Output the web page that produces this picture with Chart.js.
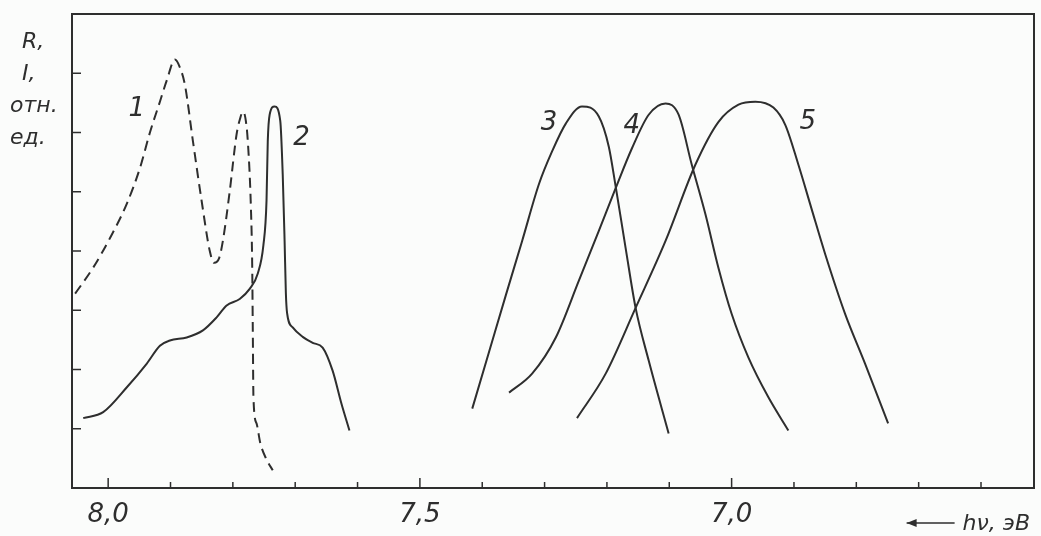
<!DOCTYPE html>
<html>
<head>
<meta charset="utf-8">
<script src="https://cdn.jsdelivr.net/npm/chart.js@4"></script>
<style>
  body { margin: 0; background: #fbfcfb; }
  #wrap { width: 1041px; height: 536px; position: relative; }
</style>
</head>
<body>
<div id="wrap"><canvas id="spectra"></canvas></div>
<script>
// photon energy, eV (axis runs from high to low)
const x1 = [8.053, 8.024, 7.997, 7.970, 7.949, 7.933, 7.917, 7.906, 7.893, 7.885, 7.877, 7.864, 7.850, 7.837, 7.830, 7.822, 7.816, 7.805, 7.794, 7.788, 7.784, 7.780, 7.776, 7.771, 7.769, 7.768, 7.767, 7.762, 7.756, 7.746, 7.736];
const y1 = [3.28, 3.72, 4.22, 4.80, 5.40, 6.00, 6.52, 6.88, 7.23, 7.10, 6.81, 5.85, 4.84, 4.00, 3.80, 3.88, 4.17, 5.01, 5.97, 6.25, 6.35, 6.25, 5.85, 4.72, 3.78, 2.66, 1.53, 1.09, 0.76, 0.48, 0.30];

const x2 = [8.040, 8.008, 7.970, 7.938, 7.917, 7.901, 7.874, 7.848, 7.826, 7.810, 7.789, 7.773, 7.760, 7.751, 7.746, 7.744, 7.741, 7.733, 7.724, 7.720, 7.717, 7.715, 7.713, 7.704, 7.688, 7.672, 7.656, 7.640, 7.626, 7.613];
const y2 = [1.18, 1.28, 1.70, 2.10, 2.40, 2.49, 2.54, 2.66, 2.88, 3.08, 3.19, 3.36, 3.62, 4.10, 4.85, 5.85, 6.30, 6.44, 6.20, 5.29, 4.17, 3.30, 2.95, 2.71, 2.55, 2.45, 2.37, 1.98, 1.43, 0.97];

const x3 = [7.416, 7.389, 7.362, 7.336, 7.309, 7.288, 7.266, 7.240, 7.213, 7.197, 7.186, 7.170, 7.154, 7.133, 7.101];
const y3 = [1.34, 2.30, 3.26, 4.17, 5.13, 5.68, 6.15, 6.44, 6.27, 5.76, 5.09, 4.05, 3.04, 2.15, 0.92];

const x4 = [7.357, 7.320, 7.282, 7.245, 7.213, 7.186, 7.160, 7.133, 7.106, 7.085, 7.064, 7.042, 7.021, 7.000, 6.973, 6.941, 6.909];
const y4 = [1.61, 1.93, 2.54, 3.50, 4.34, 5.06, 5.73, 6.30, 6.49, 6.30, 5.46, 4.62, 3.71, 2.94, 2.20, 1.53, 0.97];

const x5 = [7.248, 7.202, 7.154, 7.106, 7.058, 7.021, 6.989, 6.962, 6.933, 6.914, 6.893, 6.872, 6.850, 6.818, 6.786, 6.749];
const y5 = [1.18, 1.93, 3.04, 4.17, 5.46, 6.18, 6.47, 6.52, 6.42, 6.13, 5.46, 4.72, 3.95, 2.94, 2.10, 1.09];

// axis ticks
const xLabelTicks = [8.0, 7.5, 7.0];
const xMinorTicks = [8.0, 7.9, 7.8, 7.7, 7.6, 7.5, 7.4, 7.3, 7.2, 7.1, 7.0, 6.9, 6.8, 6.7, 6.6];
const yMinorTicks = [1, 2, 3, 4, 5, 6, 7];

// curve numbers, placed in data units
const curveNames = ['1', '2', '3', '4', '5'];
const nameX = [7.954, 7.690, 7.293, 7.160, 6.878];
const nameY = [6.40, 5.90, 6.15, 6.10, 6.18];

const yTitle = ['R,', 'I,', 'отн.', 'ед.'];
const xTitle = 'hν, эВ';

const INK = '#2e2e2e';
const HAND = 'italic 26px "DejaVu Sans"';

const toPoints = (xs, ys) => xs.map((x, i) => ({ x, y: ys[i] }));

const curve = (xs, ys, dashed) => ({
    data: toPoints(xs, ys),
    borderColor: INK,
    borderWidth: 2,
    borderDash: dashed ? [10, 6] : [],
    pointRadius: 0,
    cubicInterpolationMode: 'monotone',
    fill: false
});

// frame, inward ticks, curve numbers and axis titles
const decorations = {
    id: 'decorations',
    afterDraw(chart) {
        const { ctx, chartArea: ca, scales: { x, y } } = chart;
        ctx.save();
        ctx.strokeStyle = INK;
        ctx.lineWidth = 2;
        ctx.strokeRect(ca.left, ca.top, ca.right - ca.left, ca.bottom - ca.top);

        ctx.lineWidth = 1.5;
        xMinorTicks.forEach(v => {
            const px = x.getPixelForValue(v);
            const len = xLabelTicks.includes(v) ? 10 : 6;
            ctx.beginPath();
            ctx.moveTo(px, ca.bottom);
            ctx.lineTo(px, ca.bottom - len);
            ctx.stroke();
        });
        yMinorTicks.forEach(v => {
            const py = y.getPixelForValue(v);
            ctx.beginPath();
            ctx.moveTo(ca.left, py);
            ctx.lineTo(ca.left + 9, py);
            ctx.stroke();
        });

        ctx.fillStyle = INK;
        ctx.font = HAND;
        ctx.textAlign = 'center';
        ctx.textBaseline = 'middle';
        curveNames.forEach((n, i) => {
            ctx.fillText(n, x.getPixelForValue(nameX[i]), y.getPixelForValue(nameY[i]));
        });

        ctx.font = 'italic 22px "DejaVu Sans"';
        ctx.textAlign = 'left';
        ctx.textBaseline = 'alphabetic';
        yTitle.forEach((t, i) => {
            const indent = i < 2 ? 22 : 10;
            ctx.fillText(t, indent, ca.top + 34 + i * 32);
        });

        ctx.textAlign = 'right';
        ctx.fillText(xTitle, ca.right - 4, ca.bottom + 42);
        const tw = ctx.measureText(xTitle).width;
        const ax = ca.right - 4 - tw - 8;
        const ay = ca.bottom + 35;
        ctx.lineWidth = 1.5;
        ctx.beginPath();
        ctx.moveTo(ax, ay);
        ctx.lineTo(ax - 48, ay);
        ctx.stroke();
        ctx.beginPath();
        ctx.moveTo(ax - 48, ay);
        ctx.lineTo(ax - 38, ay - 4);
        ctx.lineTo(ax - 38, ay + 4);
        ctx.closePath();
        ctx.fill();
        ctx.restore();
    }
};

new Chart(document.getElementById('spectra'), {
    type: 'line',
    data: {
        datasets: [
            curve(x1, y1, true),
            curve(x2, y2, false),
            curve(x3, y3, false),
            curve(x4, y4, false),
            curve(x5, y5, false)
        ]
    },
    options: {
        responsive: true,
        maintainAspectRatio: false,
        animation: false,
        layout: { padding: { left: 72, right: 7, top: 14, bottom: 0 } },
        plugins: { legend: { display: false }, tooltip: { enabled: false } },
        scales: {
            x: {
                type: 'linear',
                reverse: true,
                min: 6.515,
                max: 8.058,
                afterBuildTicks: axis => { axis.ticks = xLabelTicks.map(v => ({ value: v })); },
                afterFit: axis => { axis.height = 48; },
                grid: { display: false, drawTicks: false },
                border: { display: false },
                ticks: {
                    color: INK,
                    padding: 12,
                    font: { family: 'DejaVu Sans', size: 26, style: 'italic' },
                    callback: v => v.toFixed(1).replace('.', ',')
                }
            },
            y: {
                display: false,
                min: 0,
                max: 8
            }
        }
    },
    plugins: [decorations]
});
</script>
</body>
</html>
